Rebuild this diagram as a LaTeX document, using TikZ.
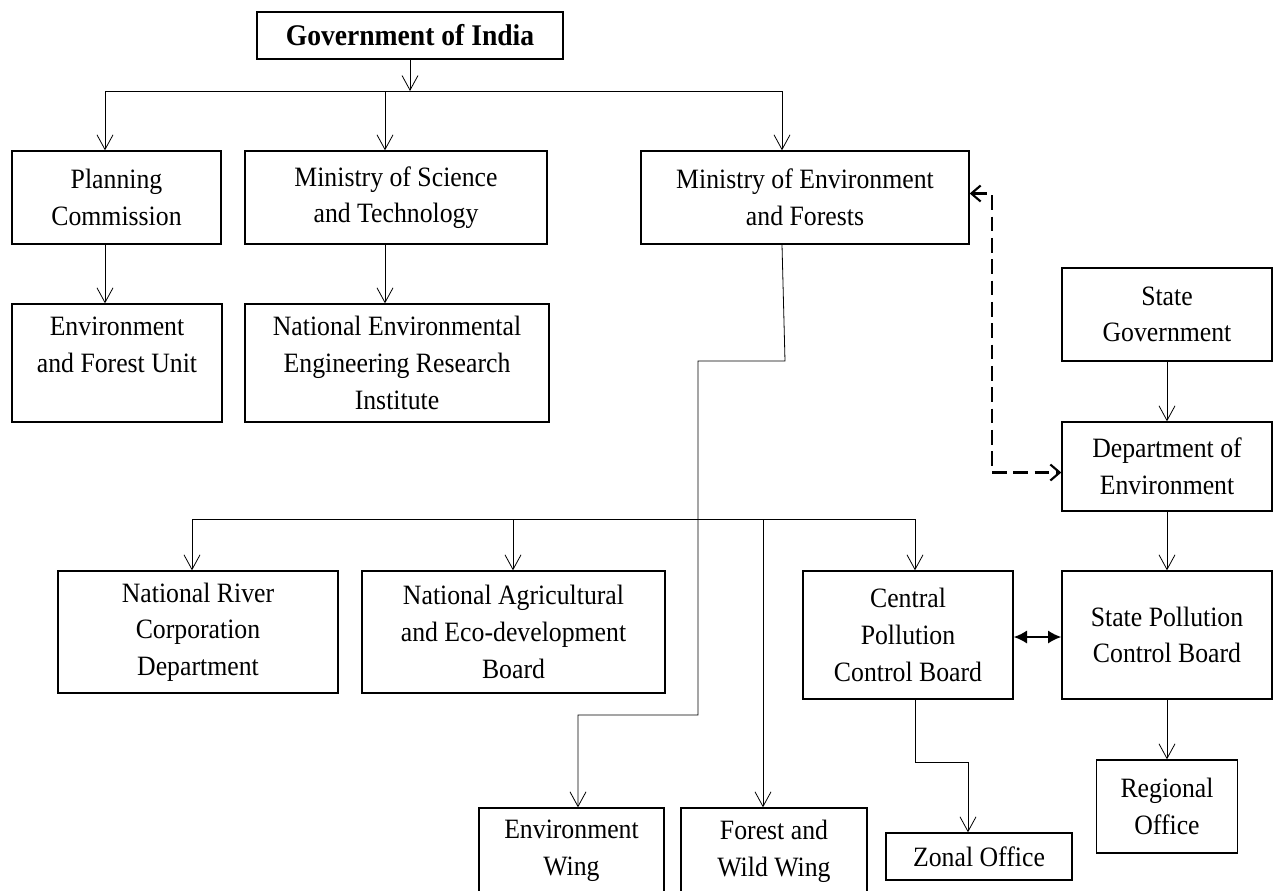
\documentclass[tikz,border=0pt]{standalone}
\usepackage{fontspec}
\setmainfont{Liberation Serif}[FakeStretch=0.92]
\usetikzlibrary{arrows.meta}
\newdimen\pxu
\pxu=0.75pt

\begin{document}
\begin{tikzpicture}[x=0.75pt,y=-0.75pt,
  orgbox/.style 2 args={rectangle,draw,line width=1pt,inner sep=0pt,align=center,
    minimum width=#1\pxu,minimum height=#2\pxu,font=\fontsize{21}{27.5}\selectfont},
  plain/.style={line width=0.6pt},
  link/.style={line width=0.6pt,-{Straight Barb[length=11pt,width=12pt]}},
  dashlink/.style={line width=1.6pt,dash pattern=on 11pt off 5pt,
    {Straight Barb[length=7pt,width=12pt]}-{Straight Barb[length=7pt,width=12pt]}},
  duplex/.style={line width=1.6pt,{Latex[length=10pt,width=10pt]}-{Latex[length=10pt,width=10pt]}}]
\useasboundingbox (0,0) rectangle (1275,890);
\clip (0,0) rectangle (1275,890);

% top level
\node[orgbox={306}{47},font=\fontsize{22.5}{27.5}\selectfont\bfseries] (goi) at (410,35.5) {Government of India};

% ministries
\node[orgbox={209}{93}] (plan) at (116.5,197.5) {Planning\\Commission};
\node[orgbox={302}{93}] (most) at (396,197.5) {Ministry of Science\\and Technology};
\node[orgbox={328}{93}] (moef) at (805,197.5) {Ministry of Environment\\and Forests};
\node[orgbox={210}{118}] (efu) at (117,363) {Environment\\and Forest Unit\\\mbox{}};
\node[orgbox={304}{118}] (neeri) at (397,363) {National Environmental\\Engineering Research\\Institute};

% state side
\node[orgbox={210}{93}] (stgov) at (1167,314.5) {State\\Government};
\node[orgbox={210}{89}] (doe) at (1167,466.5) {Department of\\Environment};
\node[orgbox={210}{128}] (spcb) at (1167,635) {State Pollution\\Control Board};
\node[orgbox={141}{93}] (regional) at (1167,806.5) {Regional\\Office};

% under MoEF
\node[orgbox={280}{122}] (nrcd) at (198,632) {National River\\Corporation\\Department};
\node[orgbox={303}{122}] (naeb) at (513.5,632) {National Agricultural\\and Eco-development\\Board};
\node[orgbox={210}{128}] (cpcb) at (908,635) {Central\\Pollution\\Control Board};
\node[orgbox={185}{86}] (envw) at (571.5,851) {Environment\\Wing};
\node[orgbox={186}{86}] (forw) at (774,851) {Forest and\\Wild Wing};
\node[orgbox={186}{47}] (zonal) at (979,856.5) {Zonal Office};

% Gov-bus
\coordinate (bus1l) at (105,91);
\coordinate (bus1m) at (385,91);
\coordinate (bus1r) at (782,91);
\draw[link] (goi.south) -- (goi.south |- bus1l);
\draw[plain] (bus1l) -- (bus1r);
\draw[link] (bus1l) -- (bus1l |- plan.north);
\draw[link] (bus1m) -- (bus1m |- most.north);
\draw[link] (bus1r) -- (bus1r |- moef.north);
\draw[link] (bus1l |- plan.south) -- (bus1l |- efu.north);
\draw[link] (bus1m |- most.south) -- (bus1m |- neeri.north);

% MoEF trunk
\coordinate (bend1) at (785,361);
\coordinate (bend2) at (698,361);
\coordinate (bend3) at (698,715);
\coordinate (bend4) at (578,715);
\draw[link] (bus1r |- moef.south) -- (bend1) -- (bend2) -- (bend3) -- (bend4) -- (bend4 |- envw.north);

% MoEF bus
\coordinate (bus2l) at (192,519);
\coordinate (bus2a) at (513,519);
\coordinate (bus2b) at (763,519);
\coordinate (bus2r) at (915,519);
\draw[plain] (bus2l) -- (bus2r);
\draw[link] (bus2l) -- (bus2l |- nrcd.north);
\draw[link] (bus2a) -- (bus2a |- naeb.north);
\draw[link] (bus2b) -- (bus2b |- forw.north);
\draw[link] (bus2r) -- (bus2r |- cpcb.north);

% CPCB to zonal
\coordinate (zbend1) at (915,762);
\coordinate (zbend2) at (968,762);
\draw[link] (bus2r |- cpcb.south) -- (zbend1) -- (zbend2) -- (zbend2 |- zonal.north);

% state chain
\draw[link] (stgov.south) -- (doe.north);
\draw[link] (doe.south) -- (spcb.north);
\draw[link] (spcb.south) -- (regional.north);

% cross links
\coordinate (dcol) at (992,0);
\draw[dashlink] ([yshift=4\pxu]moef.east) -- ([yshift=4\pxu]moef.east -| dcol) |- ([yshift=-6\pxu]doe.west);
\draw[duplex] ([yshift=-2\pxu]cpcb.east) -- ([yshift=-2\pxu]spcb.west);

\end{tikzpicture}
\end{document}
